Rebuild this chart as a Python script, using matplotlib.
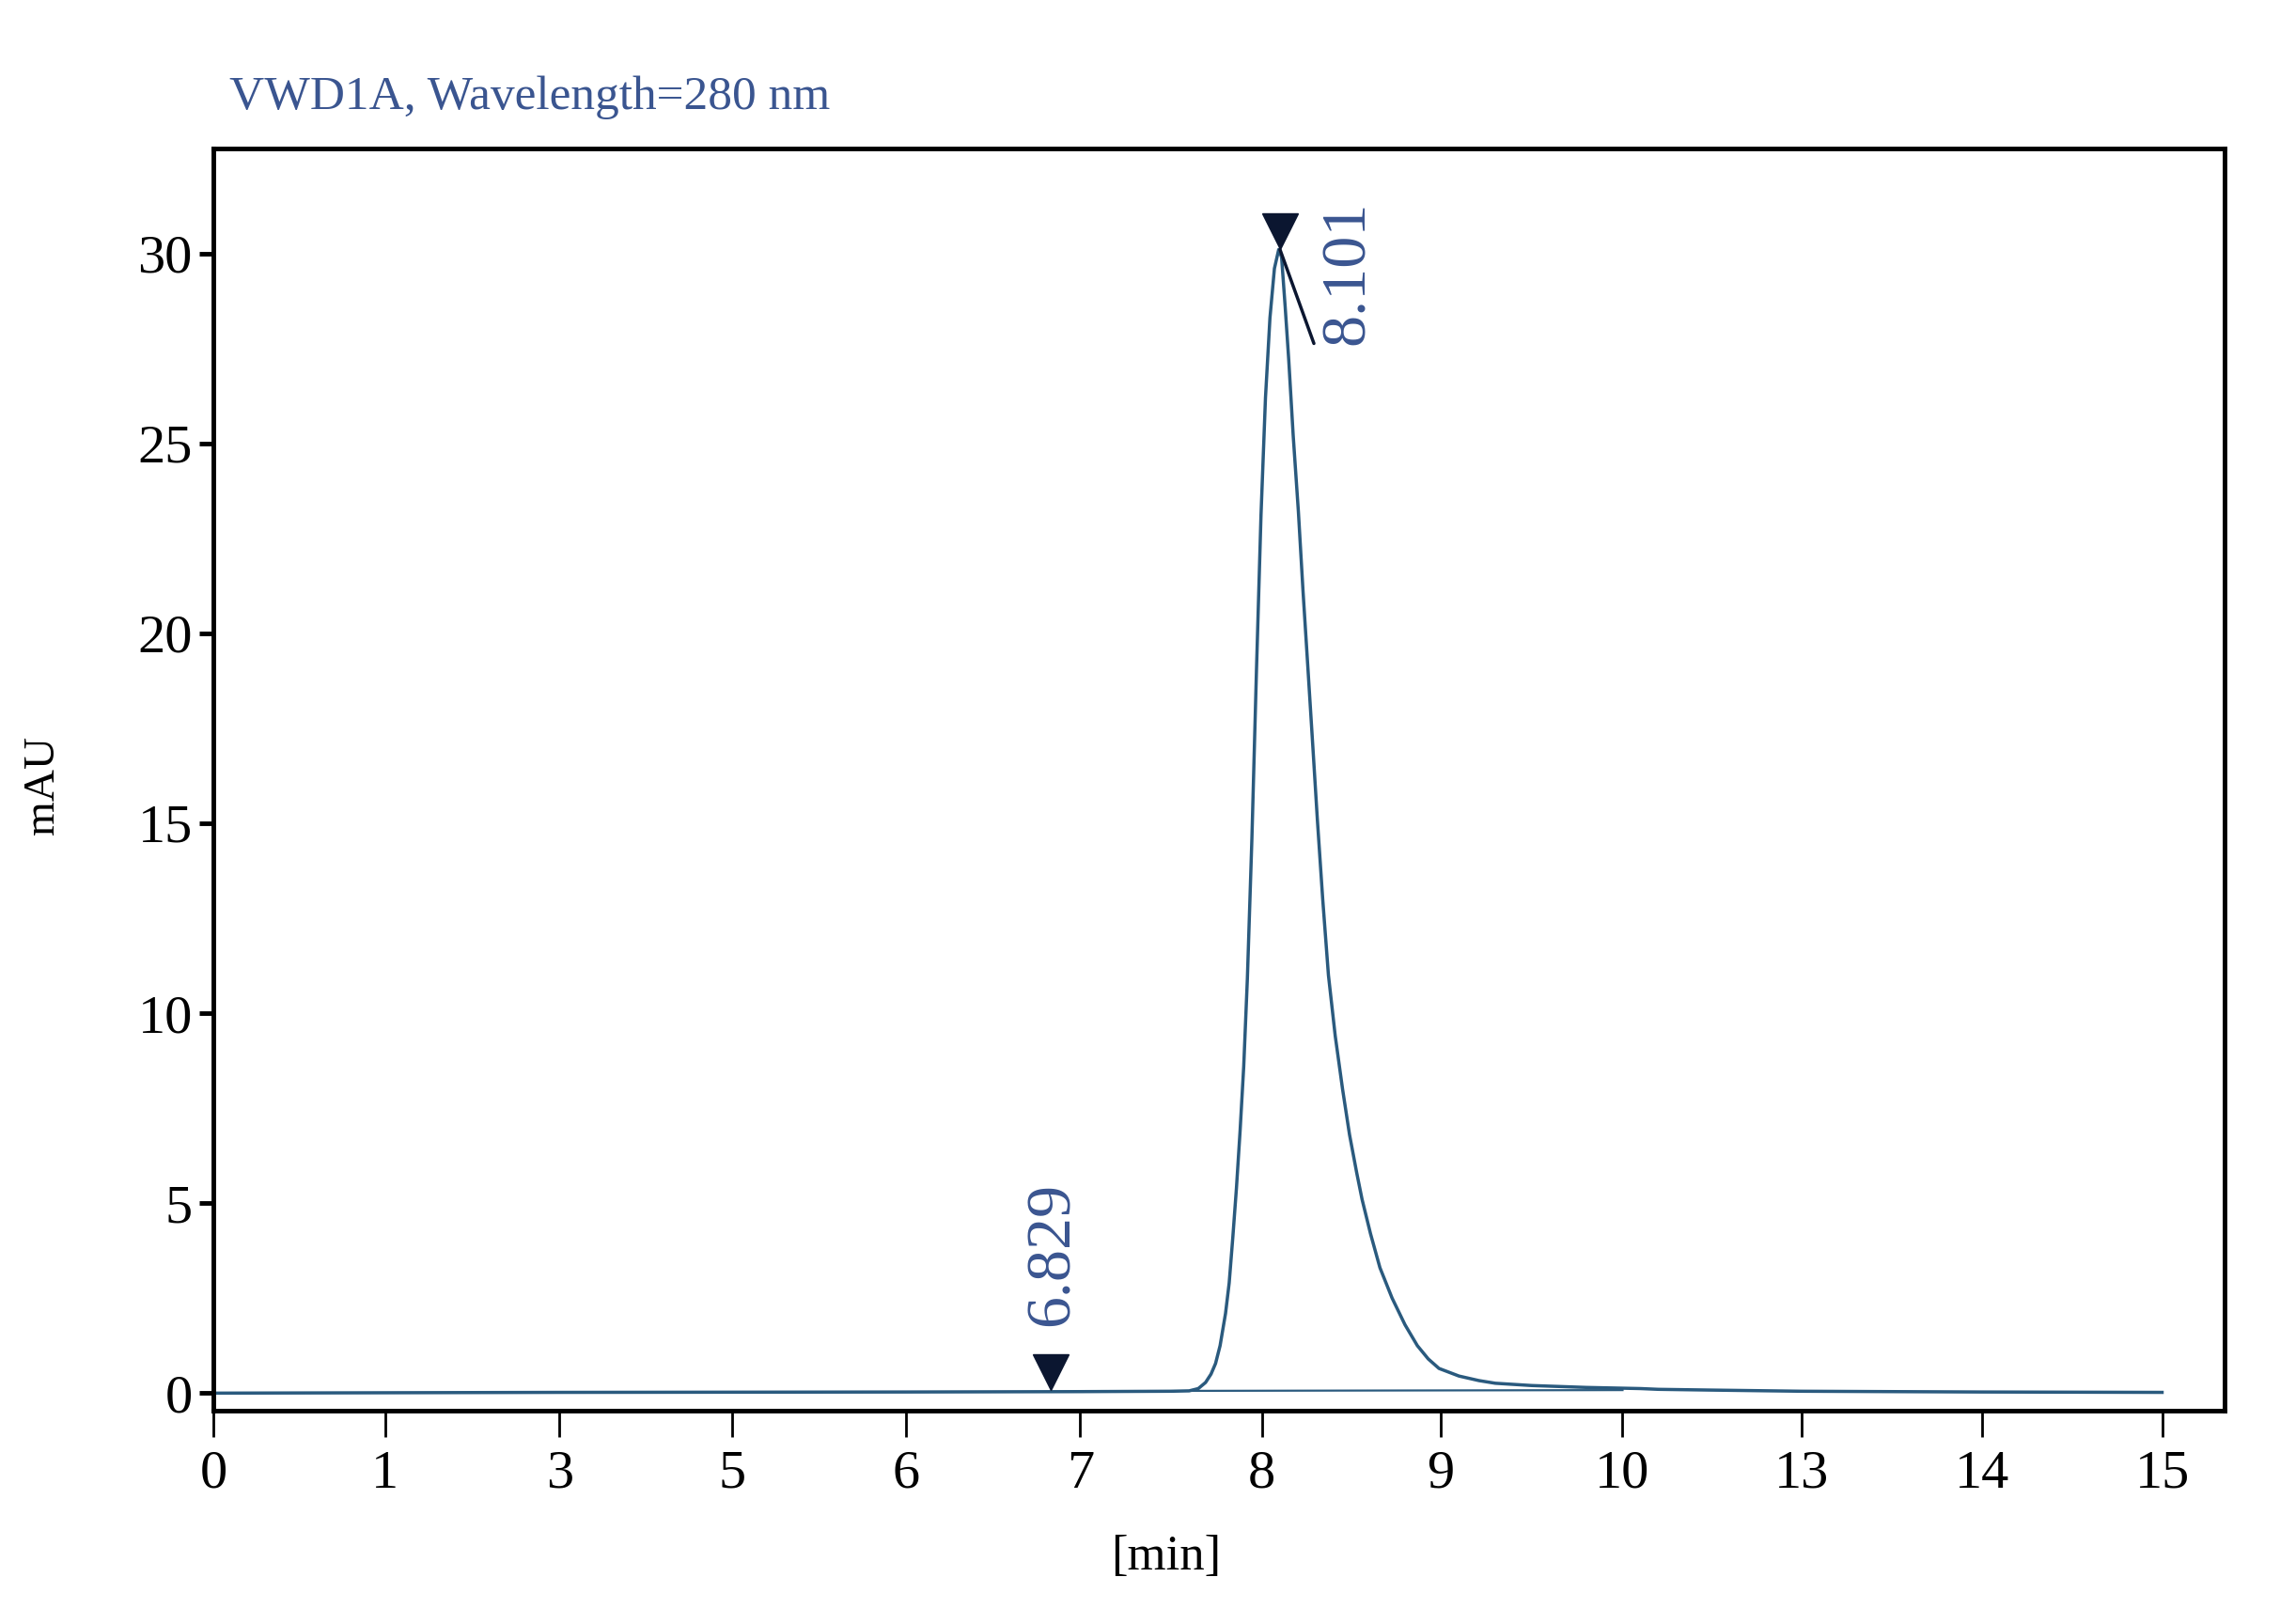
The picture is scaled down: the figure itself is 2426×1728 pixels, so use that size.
import numpy as np
import matplotlib
matplotlib.use("Agg")
import matplotlib.pyplot as plt
from matplotlib.transforms import offset_copy

# chromatogram trace (time in min, signal in mAU)
trace_t = [0.0, 3.0, 6.0, 7.0, 7.5, 7.6, 7.65, 7.69, 7.72, 7.745, 7.77, 7.80, 7.82,
           7.84, 7.86, 7.88, 7.90, 7.92, 7.945, 7.97, 7.995, 8.02, 8.045, 8.07, 8.094,
           8.11, 8.13, 8.15, 8.175, 8.204, 8.23, 8.257, 8.285, 8.31, 8.34, 8.372, 8.41,
           8.451, 8.49, 8.53, 8.56, 8.607, 8.66, 8.728, 8.80, 8.869, 8.93, 8.99, 9.1,
           9.21, 9.3, 9.5, 9.8, 10.3, 10.6, 11.5, 13.0, 14.0, 15.0]
trace_v = [0.0, 0.02, 0.03, 0.04, 0.05, 0.06, 0.12, 0.28, 0.50, 0.78, 1.25, 2.1, 2.9,
           4.1, 5.4, 6.9, 8.6, 10.9, 14.6, 19.0, 23.1, 26.2, 28.3, 29.6, 30.1,
           29.9, 28.6, 27.2, 25.2, 23.2, 21.1, 19.1, 17.0, 15.1, 13.0, 11.0, 9.4,
           8.0, 6.8, 5.8, 5.1, 4.2, 3.3, 2.5, 1.8, 1.25, 0.9, 0.65, 0.45,
           0.33, 0.26, 0.2, 0.15, 0.12, 0.1, 0.08, 0.05, 0.03, 0.02]

# integration baseline under the main peak
base_t = [7.62, 10.0]
base_v = [0.06, 0.08]

# detected peaks
peak_t = [6.829, 8.101]
peak_v = [0.08, 30.1]
peak_labels = ["6.829", "8.101"]

# the x axis of the printout is labelled unevenly
xtick_labels = [0, 1, 3, 5, 6, 7, 8, 9, 10, 13, 14, 15]
xtick_px = [0, 118, 238, 357, 476, 596, 721, 844, 969, 1092, 1216, 1340]
yticks = [0, 5, 10, 15, 20, 25, 30]

lab_ext = np.array(xtick_labels + [100.0])
px_ext = np.array(xtick_px + [1340 + 85 * 124.0])


def fwd(t):
    return np.interp(t, lab_ext, px_ext)


def inv(p):
    return np.interp(p, px_ext, lab_ext)


serif = "Liberation Serif"
line_col = "#2a5a7e"
text_col = "#3a5590"
mark_col = "#0b1630"

fig = plt.figure(figsize=(24.26, 17.28), dpi=100)
ax = fig.add_axes([0.0936, 0.1314, 0.9757 - 0.0936, 0.9086 - 0.1314])
ax.set_xscale("function", functions=(fwd, inv))

ax.plot(trace_t, trace_v, color=line_col, lw=2.5, solid_joinstyle="round")
ax.plot(base_t, base_v, color=line_col, lw=1.6)

ax.set_xlim(0, float(inv(1383)))
ax.set_ylim(-0.46, 32.76)

# peak markers: downward triangles sitting on the trace
ms = 28
for t, v in zip(peak_t, peak_v):
    tr = offset_copy(ax.transData, fig=fig, x=0, y=ms / 2, units="points")
    ax.plot([t], [v], marker="v", ms=ms, color=mark_col, transform=tr, clip_on=False)

ax.annotate(peak_labels[0], xy=(peak_t[0], peak_v[0]), xytext=(2, 49),
            textcoords="offset points", rotation=90, ha="center", va="bottom",
            fontsize=49, family=serif, color=text_col)
ax.annotate(peak_labels[1], xy=(peak_t[1], peak_v[1]), xytext=(52, -73),
            textcoords="offset points", rotation=90, ha="center", va="bottom",
            fontsize=49, family=serif, color=text_col)
ax.annotate("", xy=(peak_t[1], peak_v[1]), xytext=(26, -72), textcoords="offset points",
            arrowprops=dict(arrowstyle="-", color=mark_col, lw=2.5, shrinkA=0, shrinkB=0))

ax.set_xticks(xtick_labels)
ax.set_xticklabels([str(v) for v in xtick_labels])
ax.minorticks_off()
ax.set_yticks(yticks)
ax.set_yticklabels([str(v) for v in yticks])

for s in ax.spines.values():
    s.set_linewidth(3.5)
ax.tick_params(axis="x", length=20, width=2, pad=10, labelsize=42)
ax.tick_params(axis="y", length=11, width=3.5, pad=5, labelsize=42)
for lab in ax.get_xticklabels() + ax.get_yticklabels():
    lab.set_family(serif)

fig.text(244 / 2426, 1 - 116 / 1728, "VWD1A, Wavelength=280 nm", fontsize=37,
         family=serif, color=text_col, ha="left", va="baseline")
fig.text(46 / 2426, 1 - 835 / 1728, "mAU", fontsize=34, family=serif,
         rotation=90, ha="center", va="center")
fig.text(1241 / 2426, 1 - 1657 / 1728, "[min]", fontsize=38, family=serif,
         ha="center", va="center")

fig.savefig("out.png", dpi=100)
